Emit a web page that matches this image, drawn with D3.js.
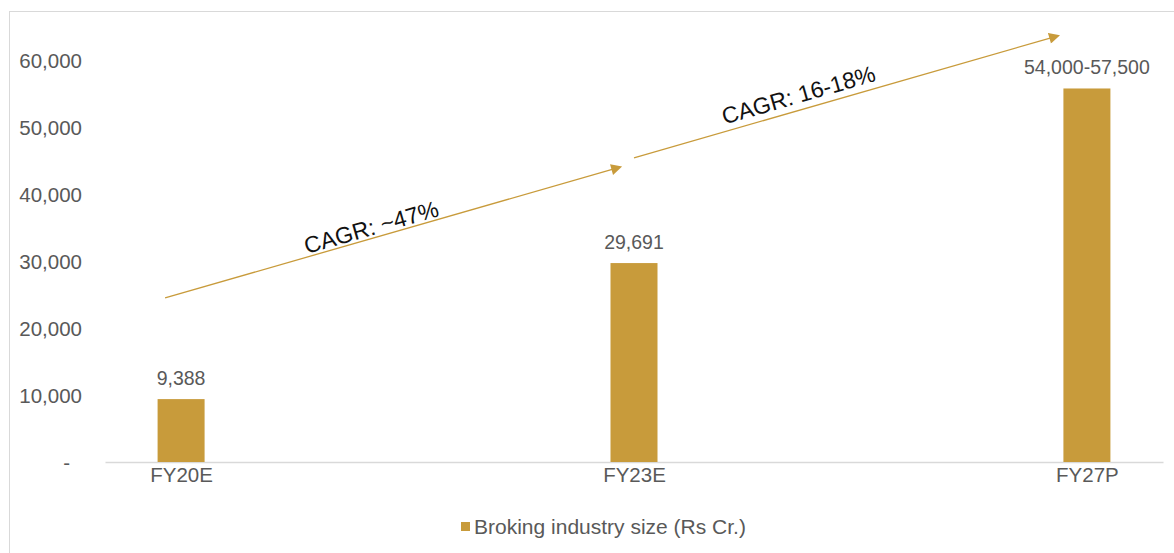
<!DOCTYPE html>
<html>
<head>
<meta charset="utf-8">
<script src="https://cdn.jsdelivr.net/npm/d3@7"></script>
<style>
  body { margin: 0; background: #fff; }
  svg text { font-family: "Liberation Sans", Arial, sans-serif; }
</style>
</head>
<body>
<svg id="chart" width="1174" height="553"></svg>
<script>
// chart data
var categories = ["FY20E", "FY23E", "FY27P"];
var values = [9388, 29691, 55750];
var valueLabels = ["9,388", "29,691", "54,000-57,500"];
var yTicks = [0, 10000, 20000, 30000, 40000, 50000, 60000];
var seriesName = "Broking industry size (Rs Cr.)";

// CAGR arrows: [category, x nudge, value]
var arrowFrom = [["FY20E", -16, 24500], ["FY23E", 0, 45400]];
var arrowTo = [["FY23E", -14, 44000], ["FY27P", -29, 63600]];
var arrowText = ["CAGR: ~47%", "CAGR: 16-18%"];
var textShift = [[-19, -3], [-45, -7]]; // along line, across line

var gold = "#C89B3B";
var grey = "#595959";

var svg = d3.select("#chart"),
    width = +svg.attr("width"),
    height = +svg.attr("height");

// outer frame
svg.append("rect")
  .attr("x", 9.5).attr("y", 11.5)
  .attr("width", width).attr("height", height)
  .attr("fill", "none").attr("stroke", "#D9D9D9");

var x = d3.scalePoint().domain(categories).range([105, 1163]).padding(0.168);
var y = d3.scaleLinear().domain([0, 60000]).range([462, 60]);

svg.append("defs").append("marker")
  .attr("id", "head")
  .attr("viewBox", "0 0 10 10")
  .attr("refX", 8).attr("refY", 5)
  .attr("markerWidth", 12).attr("markerHeight", 11)
  .attr("markerUnits", "userSpaceOnUse")
  .attr("orient", "auto")
  .append("path")
  .attr("d", "M0,0 L10,5 L0,10 z")
  .attr("fill", gold);

// y axis labels, no line
var yAxis = svg.append("g")
  .attr("transform", "translate(82,0)")
  .call(d3.axisLeft(y).tickValues(yTicks).tickSize(0).tickPadding(0)
    .tickFormat(function(d) { return d === 0 ? "-" : d3.format(",")(d); }));
yAxis.select(".domain").remove();
yAxis.selectAll("text")
  .attr("fill", grey).attr("font-size", "20.5px")
  .attr("dy", "0.35em");
yAxis.selectAll(".tick").filter(function(d) { return d === 0; }).select("text")
  .attr("x", -12);

// x axis
var xAxis = svg.append("g")
  .attr("transform", "translate(0," + y(0) + ")")
  .call(d3.axisBottom(x).tickSize(0).tickPadding(5));
xAxis.select(".domain").attr("stroke", "#D9D9D9").attr("stroke-width", 1.3);
xAxis.selectAll("text").attr("fill", grey).attr("font-size", "20.5px");

// bars
var barW = 47;
svg.append("g").selectAll("rect")
  .data(values)
  .enter().append("rect")
    .attr("x", function(d, i) { return x(categories[i]) - barW / 2; })
    .attr("y", function(d) { return y(d); })
    .attr("width", barW)
    .attr("height", function(d) { return y(0) - y(d); })
    .attr("fill", gold);

svg.append("g").selectAll("text")
  .data(values)
  .enter().append("text")
    .attr("x", function(d, i) { return x(categories[i]); })
    .attr("y", function(d) { return y(d) - 14; })
    .attr("text-anchor", "middle")
    .attr("fill", grey)
    .attr("font-size", "19.5px")
    .text(function(d, i) { return valueLabels[i]; });

// CAGR arrows
arrowFrom.forEach(function(f, i) {
  var t = arrowTo[i];
  var x1 = x(f[0]) + f[1], y1 = y(f[2]);
  var x2 = x(t[0]) + t[1], y2 = y(t[2]);
  svg.append("line")
    .attr("x1", x1).attr("y1", y1).attr("x2", x2).attr("y2", y2)
    .attr("stroke", gold).attr("stroke-width", 1.3)
    .attr("marker-end", "url(#head)");
  var ang = Math.atan2(y2 - y1, x2 - x1) * 180 / Math.PI;
  var mx = (x1 + x2) / 2, my = (y1 + y2) / 2;
  svg.append("text")
    .attr("transform", "translate(" + mx + "," + my + ") rotate(" + ang + ")")
    .attr("x", textShift[i][0])
    .attr("y", textShift[i][1])
    .attr("text-anchor", "middle")
    .attr("fill", "#111")
    .attr("font-size", "23px")
    .text(arrowText[i]);
});

// legend
var leg = svg.append("g").attr("transform", "translate(461,527)");
leg.append("rect").attr("x", 0).attr("y", -5).attr("width", 9).attr("height", 9).attr("fill", gold);
leg.append("text").attr("x", 13).attr("y", 0).attr("dy", "0.35em")
  .attr("fill", grey).attr("font-size", "21px").text(seriesName);
</script>
</body>
</html>
